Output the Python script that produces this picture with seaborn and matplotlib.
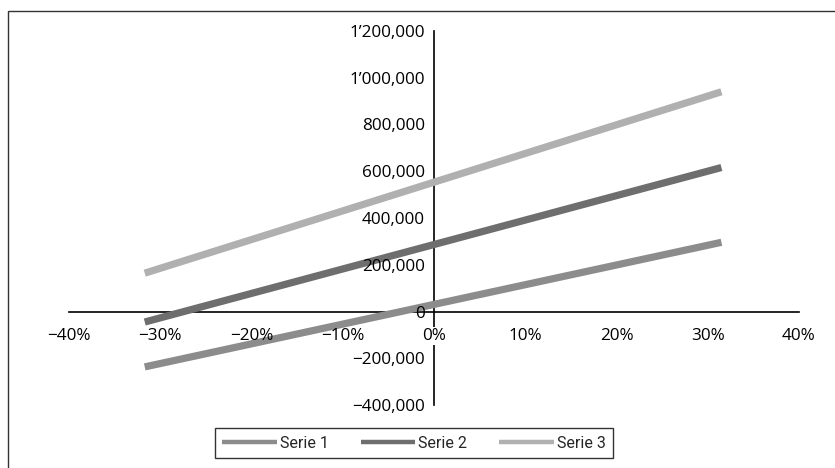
import matplotlib
matplotlib.use("Agg")
import matplotlib.pyplot as plt
from matplotlib.patches import Rectangle
import seaborn as sns
import pandas as pd

# Sensitivity range (share of variation) and resulting values per series
variation = [-0.317, 0.315]
serie_1 = [-237000, 296000]
serie_2 = [-45000, 616000]
serie_3 = [164000, 940000]
series_names = ["Serie 1", "Serie 2", "Serie 3"]
series_colors = ["#8c8c8c", "#6e6e6e", "#b0b0b0"]

x_ticks = [-0.4, -0.3, -0.2, -0.1, 0.0, 0.1, 0.2, 0.3, 0.4]
x_labels = ["\u221240%", "\u221230%", "\u221220%", "\u221210%", "0%", "10%", "20%", "30%", "40%"]
y_ticks = [-400000, -200000, 0, 200000, 400000, 600000, 800000, 1000000, 1200000]
y_labels = ["\u2212400,000", "\u2212200,000", "0", "200,000", "400,000", "600,000",
            "800,000", "1\u2019000,000", "1\u2019200,000"]

df = pd.DataFrame({
    "variation": variation * 3,
    "value": serie_1 + serie_2 + serie_3,
    "serie": [n for n in series_names for _ in variation],
})

sns.set_theme(style="white")
plt.rcParams["font.family"] = ["Open Sans", "DejaVu Sans"]

W, H = 835, 468
fig = plt.figure(figsize=(W / 100, H / 100), dpi=100)
fig.patch.set_facecolor("white")
ax = fig.add_axes([69 / W, 1 - 405 / H, 730 / W, (405 - 31) / H])
ax.set_facecolor("none")

sns.lineplot(data=df, x="variation", y="value", hue="serie", palette=series_colors,
             linewidth=5.2, ax=ax, legend=False, zorder=2,
             solid_capstyle="butt")

ax.set_xlim(-0.4, 0.4)
ax.set_ylim(-400000, 1200000)
ax.set_xlabel("")
ax.set_ylabel("")

# Axes crossing at the origin
for side in ("top", "right"):
    ax.spines[side].set_visible(False)
ax.spines["left"].set_position(("data", 0))
ax.spines["bottom"].set_position(("data", 0))
for side in ("left", "bottom"):
    ax.spines[side].set_color("black")
    ax.spines[side].set_linewidth(1.2)
    ax.spines[side].set_zorder(1)
ax.set_axisbelow(False)

ax.set_xticks(x_ticks)
ax.set_xticklabels(x_labels)
ax.set_yticks(y_ticks)
ax.set_yticklabels(y_labels)
ax.tick_params(axis="x", direction="out", length=3.5, width=1.2, color="black",
               pad=8.5, labelsize=12.3, labelcolor="black")
ax.tick_params(axis="y", length=0, pad=6.5, labelsize=12.3, labelcolor="black")
# the 0% label sits on the vertical axis and masks it
ax.get_xticklabels()[4].set_bbox(dict(facecolor="white", edgecolor="none", pad=0.5))

# Legend below the plot
handles = [plt.Line2D([0], [0], color=c, lw=3.2, solid_capstyle="butt") for c in series_colors]
leg = fig.legend(handles, series_names, loc="center", bbox_to_anchor=(414 / W, 1 - 443 / H),
                 ncol=3, frameon=True, fancybox=False, handlelength=3.4, handletextpad=0.2,
                 columnspacing=2.0, borderpad=0.45, borderaxespad=0,
                 prop={"family": ["Roboto", "DejaVu Sans"], "size": 11.5})
leg.get_frame().set_edgecolor("black")
leg.get_frame().set_linewidth(1.0)

# Chart area border
fig.add_artist(Rectangle((8 / W, -0.1), 1.2, 1.1 - 11 / H, transform=fig.transFigure,
                         fill=False, edgecolor="#333333", linewidth=1.0))

fig.savefig("out.png", dpi=100, facecolor="white")
